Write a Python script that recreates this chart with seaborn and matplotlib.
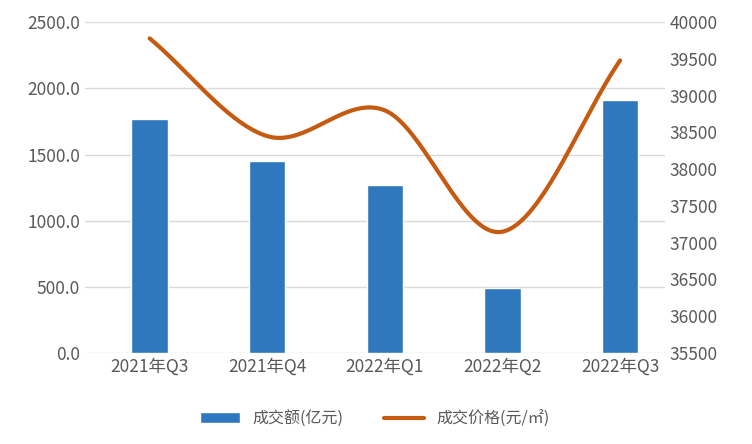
import numpy as np
import pandas as pd
import matplotlib
matplotlib.use("Agg")
import matplotlib.pyplot as plt
import seaborn as sns

quarters = ["2021年Q3", "2021年Q4", "2022年Q1", "2022年Q2", "2022年Q3"]
amount = [1765, 1450, 1270, 490, 1915]
price = [39780, 38450, 38800, 37150, 39480]

sns.set_theme(style="white")
plt.rcParams["font.family"] = ["Noto Sans CJK SC", "DejaVu Sans"]

fig, ax = plt.subplots(figsize=(7.52, 4.44), dpi=100)
df = pd.DataFrame({"q": quarters, "amount": amount})
sns.barplot(data=df, x="q", y="amount", color="#2F78BD", width=0.31, ax=ax,
            saturation=1, label="成交额(亿元)")
ax.set_ylim(0, 2500)
ax.set_yticks(np.arange(0, 2501, 500))
ax.set_yticklabels([f"{v:.1f}" for v in np.arange(0, 2501, 500)])
ax.yaxis.grid(True, color="#D9D9D9", lw=1)
ax.set_axisbelow(True)
ax.set_xlabel("")
ax.set_ylabel("")

# smooth curve through the points (Catmull-Rom for drawing only)
x = np.arange(len(price), dtype=float)
p = np.array(price, dtype=float)
pts_x, pts_y = [], []
ext = np.concatenate([[2 * p[0] - p[1]], p, [2 * p[-1] - p[-2]]])
for i in range(len(p) - 1):
    t = np.linspace(0, 1, 40)
    p0, p1, p2, p3 = ext[i], ext[i + 1], ext[i + 2], ext[i + 3]
    y = 0.5 * ((2 * p1) + (-p0 + p2) * t + (2 * p0 - 5 * p1 + 4 * p2 - p3) * t**2
               + (-p0 + 3 * p1 - 3 * p2 + p3) * t**3)
    pts_x.extend(x[i] + t)
    pts_y.extend(y)

ax2 = ax.twinx()
sns.lineplot(x=pts_x, y=pts_y, color="#C55A11", lw=3, ax=ax2, label="成交价格(元/㎡)",
             legend=False)
ax2.set_ylim(35500, 40000)
ax2.set_yticks(np.arange(35500, 40001, 500))
ax.set_xlim(-0.55, 4.38)

for a in (ax, ax2):
    for s in a.spines.values():
        s.set_visible(False)
    a.tick_params(labelsize=12.5, colors="#595959", length=0)

h1, l1 = ax.get_legend_handles_labels()
h2, l2 = ax2.get_legend_handles_labels()
ax.legend(h1 + h2, l1 + l2, loc="upper center", bbox_to_anchor=(0.5, -0.13),
          ncol=2, frameon=False, fontsize=11.5, labelcolor="#595959",
          handlelength=2.5, columnspacing=2.5)

plt.subplots_adjust(left=0.113, right=0.884, top=0.95, bottom=0.205)
fig.savefig("out.png")
